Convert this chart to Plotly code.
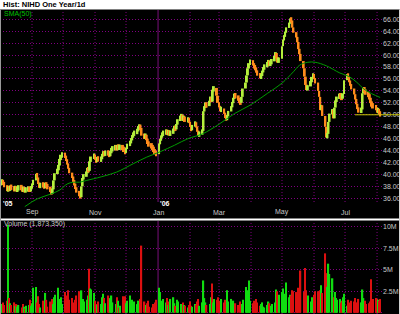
import pandas as pd
import plotly.graph_objects as go

# ---------------- data ----------------
weekly_closes = [
    [38.6, 38.9, 38.4, 38.2],                 # Aug 2-5 2005
    [37.2, 37.9, 37.4, 38.0, 37.7],
    [37.5, 37.8, 37.4, 37.6, 37.9],
    [37.7, 37.4, 37.6, 37.3, 37.5],
    [37.6, 37.4, 37.8, 38.3, 39.0],
    [40.1, 39.5, 38.4, 38.0, 38.3],           # Sep 5
    [38.2, 37.9, 38.4, 38.1, 37.8],
    [37.2, 36.9, 37.5, 39.0, 40.2],
    [40.8, 41.5, 42.6, 43.1, 43.4],
    [43.0, 42.4, 41.8, 41.0, 40.3],           # Oct 3
    [39.4, 39.0, 38.2, 37.8, 37.0],
    [36.6, 36.2, 38.0, 39.4, 39.8],
    [40.3, 41.0, 40.6, 42.2, 42.9],
    [43.2, 42.6, 42.2, 42.8, 42.4],           # Oct 31
    [42.7, 43.3, 43.6, 43.4, 43.7],
    [43.5, 43.2, 43.8, 44.2, 44.4],
    [44.6, 44.3, 44.7, 44.5, 44.6],
    [44.4, 44.0, 43.7, 44.4, 45.0],
    [45.4, 45.9, 46.4, 46.8, 47.0],           # Dec 5
    [47.4, 47.9, 48.0, 47.8, 46.5],
    [46.3, 46.5, 45.9, 45.2, 45.0],
    [44.6, 44.4, 44.0, 43.6, 43.4],
    [45.2, 45.8, 46.4, 46.8, 47.0],           # Jan 2 2006
    [47.2, 46.9, 47.1, 46.8, 47.0],
    [47.5, 47.9, 47.6, 48.4, 49.2],
    [49.6, 49.8, 49.3, 49.5, 49.0],
    [49.3, 48.8, 48.0, 47.4, 48.3],
    [48.6, 48.0, 47.2, 46.6, 46.9],           # Feb 6
    [47.3, 50.6, 51.4, 51.8, 51.5],
    [52.3, 52.9, 52.2, 54.2, 54.5],
    [53.2, 52.0, 51.3, 50.8, 51.0],
    [50.2, 49.6, 49.3, 49.8, 50.6],           # Mar 6
    [51.4, 52.0, 52.8, 53.4, 53.0],
    [52.6, 52.2, 52.0, 53.0, 54.4],
    [55.4, 56.6, 57.8, 58.6, 59.0],
    [58.4, 58.0, 57.8, 57.2, 56.8],           # Apr 3
    [56.3, 56.6, 57.3, 57.8, 58.2],
    [58.6, 58.9, 58.4, 58.8, 59.0],
    [59.8, 60.3, 59.5, 58.9, 59.4],
    [61.5, 62.6, 63.2, 63.8, 64.6],           # May 1
    [65.4, 66.0, 65.8, 64.6, 63.8],
    [63.0, 62.2, 61.0, 60.2, 59.0],
    [57.8, 56.4, 55.0, 54.2, 54.8],
    [55.6, 56.2, 56.8, 56.0, 55.4],
    [54.0, 53.0, 50.8, 51.6, 49.8],           # Jun 5
    [48.0, 46.2, 46.8, 48.8, 50.2],
    [50.8, 49.4, 51.2, 52.4, 52.8],
    [53.4, 53.0, 52.8, 53.5, 55.8],
    [56.8, 56.2, 55.6, 55.0, 54.4],           # Jul 3
    [53.4, 52.6, 51.8, 51.0, 50.6],
    [50.9, 53.6, 54.4, 54.0, 53.6],
    [53.2, 52.8, 52.0, 51.6, 51.4],
    [51.0, 50.6, 50.8, 50.3, 50.0],           # Jul 31
]

weekly_volumes_m = [
    [1.0, 0.8, 1.2, 0.9],
    [1.4, 10.2, 1.7, 1.1, 0.9],
    [1.2, 0.8, 1.0, 0.7, 0.9],
    [0.6, 1.0, 0.7, 0.5, 0.8],
    [0.9, 1.5, 0.8, 1.1, 2.9],
    [3.0, 1.2, 1.9, 1.0, 0.6],
    [1.4, 0.9, 2.3, 1.5, 0.7],
    [1.3, 1.6, 1.0, 1.8, 2.1],
    [2.9, 1.6, 1.2, 1.8, 1.0],
    [2.4, 2.0, 1.3, 2.6, 1.5],
    [1.7, 1.2, 0.9, 1.5, 2.0],
    [2.5, 1.8, 2.6, 1.6, 1.3],
    [1.5, 2.0, 5.1, 2.8, 2.7],
    [2.3, 1.4, 1.0, 0.9, 1.3],
    [1.0, 1.8, 2.2, 1.7, 1.1],
    [2.0, 1.5, 1.7, 2.0, 1.2],
    [1.0, 1.8, 1.4, 0.6, 0.8],
    [1.9, 1.6, 1.9, 1.1, 1.4],
    [2.0, 1.2, 1.5, 0.9, 1.3],
    [1.0, 1.4, 1.2, 1.6, 7.8],
    [1.3, 0.9, 1.1, 1.4, 0.7],
    [0.6, 1.0, 0.8, 1.2, 1.5],
    [2.9, 2.4, 1.4, 1.1, 1.6],
    [1.2, 1.7, 0.9, 1.3, 1.6],
    [1.8, 1.1, 0.8, 1.5, 1.3],
    [1.0, 0.7, 1.2, 0.9, 0.8],
    [0.6, 0.9, 1.3, 0.8, 0.7],
    [1.0, 0.9, 1.3, 1.6, 0.8],
    [1.2, 3.75, 1.7, 1.2, 0.9],
    [1.0, 1.8, 3.4, 1.2, 1.6],
    [1.5, 1.8, 1.0, 1.4, 1.6],
    [1.2, 1.5, 0.9, 2.6, 1.3],
    [1.6, 1.0, 1.4, 0.8, 1.1],
    [0.9, 1.3, 0.7, 1.0, 1.5],
    [3.0, 2.6, 1.2, 3.75, 1.4],
    [1.1, 1.4, 0.9, 1.6, 1.2],
    [0.8, 1.0, 1.2, 0.7, 0.6],
    [0.9, 1.3, 1.1, 0.8, 1.0],
    [1.2, 2.7, 2.5, 1.4, 2.1],
    [2.4, 2.8, 1.9, 2.2, 3.5],
    [1.8, 2.1, 2.0, 2.6, 2.5],
    [2.4, 1.7, 2.9, 2.2, 4.9],
    [2.4, 5.2, 2.6, 1.5, 2.0],
    [1.3, 1.8, 1.5, 2.1, 2.5],
    [2.5, 2.2, 2.6, 3.2, 2.3],
    [6.9, 4.6, 3.0, 5.7, 4.5],
    [4.0, 1.8, 2.4, 1.7, 1.5],
    [1.6, 1.2, 1.4, 1.8, 2.2],
    [0.8, 1.5, 1.2, 1.0, 1.4],
    [1.3, 1.7, 0.9, 1.2, 1.6],
    [1.2, 2.7, 1.7, 1.4, 1.0],
    [1.1, 1.3, 3.9, 1.5, 1.6],
    [1.7, 1.6, 1.5, 1.4, 1.6],
]

sma_dates = ['2005-08-25', '2005-09-06', '2005-09-19', '2005-09-28', '2005-10-05',
             '2005-10-11', '2005-10-17', '2005-10-24', '2005-11-07', '2005-11-22',
             '2005-12-08', '2005-12-21', '2006-01-03', '2006-01-17', '2006-01-30',
             '2006-02-13', '2006-02-28', '2006-03-16', '2006-03-31', '2006-04-17',
             '2006-05-01', '2006-05-12', '2006-05-18', '2006-05-26', '2006-06-02',
             '2006-06-13', '2006-06-26', '2006-07-05', '2006-07-12', '2006-07-21',
             '2006-08-04']
sma_values = [34.6, 35.9, 36.7, 37.4, 38.4, 38.7, 38.7, 39.0, 39.6, 40.4,
              41.8, 42.9, 43.8, 44.9, 46.0, 46.8, 48.3, 50.2, 51.6, 53.6,
              55.3, 57.2, 58.3, 58.8, 58.8, 58.2, 57.0, 56.4, 55.5, 54.1,
              52.9]

price_ticks = list(range(36, 67, 2))
volume_ticks = [0, 2.5, 5, 7.5, 10]
volume_tick_text = ['0M', '2.5M', '5M', '7.5M', '10M']
month_starts = ['2005-09-01', '2005-10-01', '2005-11-01', '2005-12-01', '2006-01-01',
                '2006-02-01', '2006-03-01', '2006-04-01', '2006-05-01', '2006-06-01',
                '2006-07-01', '2006-08-01']
month_labels = {'2005-09-01': 'Sep', '2005-11-01': 'Nov', '2006-01-01': 'Jan',
                '2006-03-01': 'Mar', '2006-05-01': 'May', '2006-07-01': 'Jul'}
last_line_price = 50.0

# ---------------- build ----------------
closes = [v for wk in weekly_closes for v in wk]
volumes = [v for wk in weekly_volumes_m for v in wk]
dates = pd.bdate_range('2005-08-02', '2006-08-04')
n = min(len(dates), len(closes), len(volumes))
dates, closes, volumes = dates[:n], closes[:n], volumes[:n]
opens = [closes[0]] + closes[:-1]

MIN_BODY = 0.9  # minimum drawn height of a daily bar (style only)
up = [c >= o for o, c in zip(opens, closes)]
bases, heights = [], []
for o, c in zip(opens, closes):
    lo, hi = min(o, c), max(o, c)
    if hi - lo < MIN_BODY:
        mid = (hi + lo) / 2
        lo, hi = mid - MIN_BODY / 2, mid + MIN_BODY / 2
    bases.append(lo)
    heights.append(hi - lo)
price_colors = ['#b4ee3c' if u else '#ff8c1c' for u in up]
vol_colors = ['#10dc10' if u else '#dc1010' for u in up]

W, H, R = 400, 314, 18
PW = W - R
DAY = 86400000


def py(p):
    return 1 - p / H


fig = go.Figure()
fig.add_trace(go.Bar(x=dates, y=heights, base=bases, marker_color=price_colors,
                     marker_line_width=0, width=1.9 * DAY, xaxis='x', yaxis='y',
                     showlegend=False, hoverinfo='skip'))
fig.add_trace(go.Scatter(x=sma_dates, y=sma_values, mode='lines',
                         line=dict(color='#009a00', width=1, shape='spline'),
                         xaxis='x', yaxis='y', showlegend=False, hoverinfo='skip'))
fig.add_trace(go.Bar(x=dates, y=volumes, marker_color=vol_colors, marker_line_width=0,
                     width=1.25 * DAY, xaxis='x2', yaxis='y2', showlegend=False,
                     hoverinfo='skip'))

grid_purple = '#800080'
grid_dash = '1px,2px'
font_small = dict(family='Liberation Sans, Arial, sans-serif', size=7, color='#c8c8c8')

shapes = [
    dict(type='rect', xref='paper', yref='paper', x0=-0.01, x1=W / PW + 0.01,
         y0=py(9.5), y1=1.01, fillcolor='white', line_width=0, layer='above'),
    dict(type='line', xref='paper', yref='paper', x0=-0.01, x1=W / PW + 0.01,
         y0=py(219.5), y1=py(219.5), line=dict(color='white', width=2), layer='above'),
    dict(type='line', xref='paper', yref='paper', x0=0.5 / PW, x1=0.5 / PW,
         y0=0, y1=py(9.5), line=dict(color='#9a9a9a', width=1), layer='above'),
    dict(type='line', xref='paper', yref='paper', x0=(W - 0.5) / PW, x1=(W - 0.5) / PW,
         y0=0, y1=py(9.5), line=dict(color='#d0d0d0', width=1), layer='above'),
    dict(type='line', xref='paper', yref='y', x0=355 / PW, x1=W / PW,
         y0=last_line_price, y1=last_line_price, line=dict(color='#c8c800', width=1),
         layer='above'),
]
for d in month_starts:
    solid = d == '2006-01-01'
    ln = dict(color='#7a107a' if solid else grid_purple, width=1,
              dash='solid' if solid else grid_dash)
    shapes.append(dict(type='line', xref='x', yref='paper', x0=d, x1=d,
                       y0=py(202), y1=py(10), line=ln, layer='below'))
    shapes.append(dict(type='line', xref='x', yref='paper', x0=d, x1=d,
                       y0=0, y1=py(221), line=ln, layer='below'))

annotations = [
    dict(text='<b>Hist: NIHD One Year/1d</b>', xref='paper', yref='paper',
         x=1 / PW, y=py(4.8), xanchor='left', yanchor='middle', showarrow=False,
         font=dict(family='Liberation Sans, Arial, sans-serif', size=7.5, color='black')),
    dict(text='SMA(50)', xref='paper', yref='paper', x=2 / PW, y=py(13.5),
         xanchor='left', yanchor='middle', showarrow=False,
         font=dict(family='Liberation Sans, Arial, sans-serif', size=7, color='#00c000')),
    dict(text='Volume (1,873,350)', xref='paper', yref='paper', x=2 / PW, y=py(224),
         xanchor='left', yanchor='middle', showarrow=False, font=font_small),
    dict(text="<b>'05</b>", xref='paper', yref='paper', x=1 / PW, y=py(203.5),
         xanchor='left', yanchor='middle', showarrow=False,
         font=dict(family='Liberation Sans, Arial, sans-serif', size=7, color='white')),
    dict(text="<b>'06</b>", xref='x', yref='paper', x='2006-01-01', y=py(203.5),
         xanchor='left', yanchor='middle', showarrow=False,
         font=dict(family='Liberation Sans, Arial, sans-serif', size=7, color='white')),
]
for d, lab in month_labels.items():
    annotations.append(dict(text=lab, xref='x', yref='paper', x=d, y=py(212),
                            xanchor='center', yanchor='middle', showarrow=False,
                            font=font_small))

x_range = ['2005-08-01', '2006-08-05 19:00']

fig.update_layout(
    width=W, height=H,
    margin=dict(l=0, r=R, t=0, b=0, pad=0),
    paper_bgcolor='black', plot_bgcolor='black',
    barmode='overlay',
    showlegend=False,
    xaxis=dict(domain=[0, 1], range=x_range, type='date', visible=False,
               anchor='y', fixedrange=True),
    xaxis2=dict(domain=[0, 1], range=x_range, type='date', visible=False,
                anchor='y2', matches='x', fixedrange=True),
    yaxis=dict(domain=[py(219), py(10)], range=[32.53, 67.56], side='right',
               anchor='x', tickvals=price_ticks,
               ticktext=['%.2f' % t for t in price_ticks],
               tickfont=font_small, ticks='', showline=False, zeroline=False,
               showgrid=True, gridcolor=grid_purple, griddash=grid_dash, gridwidth=1,
               fixedrange=True),
    yaxis2=dict(domain=[0, py(221)], range=[-0.151, 10.663], side='right',
                anchor='x2', tickvals=volume_ticks, ticktext=volume_tick_text,
                tickfont=font_small, ticks='', showline=False, zeroline=False,
                showgrid=True, gridcolor=grid_purple, griddash=grid_dash, gridwidth=1,
                fixedrange=True),
    shapes=shapes,
    annotations=annotations,
)

fig.write_html('out.html', config={'displayModeBar': False})
